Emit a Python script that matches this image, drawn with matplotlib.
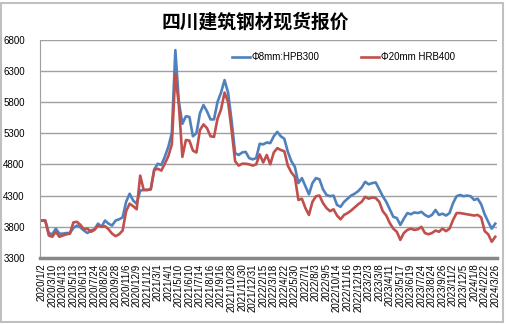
import numpy as np
import matplotlib
matplotlib.use("Agg")
import matplotlib.pyplot as plt
from matplotlib.patches import Rectangle

# %% data (one value per ~3.5 px of the plot)
hpb300 = [3900, 3900, 3700, 3680, 3770, 3690, 3690, 3700, 3700, 3780,
          3820, 3790, 3740, 3700, 3740, 3760, 3850, 3800, 3900, 3850,
          3820, 3900, 3920, 3950, 4200, 4330, 4220, 4170, 4380, 4390,
          4390, 4400, 4720, 4810, 4790, 4920, 5080, 5300, 6630, 5800,
          5450, 5570, 5560, 5250, 5300, 5620, 5750, 5650, 5520, 5520,
          5800, 5950, 6150, 5950, 5500, 4980, 4950, 4990, 5000, 4900,
          4880, 4900, 5130, 5120, 5150, 5140, 5250, 5320, 5250, 5210,
          5000, 4850, 4760, 4500, 4580, 4450, 4320, 4500, 4580, 4560,
          4400, 4310, 4290, 4300, 4150, 4120, 4200, 4250, 4300, 4330,
          4370, 4430, 4520, 4480, 4500, 4510, 4400, 4290, 4200, 4080,
          3960, 3940, 3830, 3930, 4020, 4000, 4030, 4020, 4040, 3990,
          3960, 3990, 4070, 3990, 4010, 3980, 4020, 4180, 4290, 4310,
          4290, 4300, 4290, 4230, 4250, 4160, 4000, 3880, 3770, 3850]

hrb400 = [3900, 3900, 3660, 3640, 3720, 3640, 3660, 3680, 3690, 3870,
          3880, 3830, 3760, 3770, 3720, 3750, 3820, 3800, 3810, 3760,
          3690, 3650, 3680, 3740, 4050, 4170, 4130, 4080, 4620, 4390,
          4390, 4400, 4710, 4730, 4700, 4810, 4930, 5120, 6250, 5750,
          4920, 5190, 5180, 5020, 4990, 5350, 5440, 5380, 5250, 5240,
          5530, 5680, 5950, 5800, 5350, 4850, 4780, 4810, 4810, 4800,
          4780, 4800, 4960, 4830, 4950, 4800, 4990, 5060, 5030, 5010,
          4780, 4670, 4600, 4230, 4250, 4100, 3990, 4200, 4290, 4300,
          4180, 4100, 4050, 4080, 3980, 3920, 3990, 4020, 4060, 4110,
          4160, 4200, 4280, 4250, 4270, 4260, 4200, 4050, 3980, 3860,
          3770, 3720, 3590, 3700, 3750, 3770, 3750, 3760, 3800, 3700,
          3680, 3700, 3740, 3720, 3770, 3730, 3770, 3910, 4020, 4020,
          4010, 4000, 3990, 3980, 3990, 3950, 3730, 3680, 3560, 3640]

date_labels = ["2020/1/2", "2020/3/10", "2020/4/13", "2020/5/13", "2020/6/13",
               "2020/7/24", "2020/8/26", "2020/9/28", "2020/11/6", "2020/12/9",
               "2021/1/12", "2021/3/1", "2021/4/1", "2021/5/10", "2021/6/10",
               "2021/7/14", "2021/8/16", "2021/9/16", "2021/10/28", "2021/11/30",
               "2021/12/31", "2022/2/15", "2022/3/18", "2022/4/22", "2022/5/30",
               "2022/7/1", "2022/8/3", "2022/9/5", "2022/10/14", "2022/11/16",
               "2022/12/19", "2023/2/3", "2023/3/8", "2023/4/11", "2023/5/17",
               "2023/6/19", "2023/7/24", "2023/8/24", "2023/9/26", "2023/11/2",
               "2023/12/5", "2024/1/8", "2024/2/22", "2024/3/26"]

# %% plot
plt.rcParams['font.family'] = ['Liberation Sans', 'DejaVu Sans']

x = np.arange(len(hpb300))

fig = plt.figure(figsize=(5.1, 3.24), dpi=100)
ax = fig.add_axes([40/510, 1-258/324, 457/510, 218.5/324])

ax.plot(x, hpb300, color="#4F81BD", lw=1.9, label="Φ8mm:HPB300")
ax.plot(x, hrb400, color="#C0504D", lw=1.9, label="Φ20mm HRB400")

ax.set_xlim(-0.5, len(x) - 0.5)
ax.set_ylim(3300, 6800)
ax.set_yticks(np.arange(3300, 6801, 500))
ax.set_xticks(x[::3][:len(date_labels)])
ax.set_xticklabels(date_labels, rotation=90, fontsize=7)
ax.tick_params(axis="y", labelsize=7, length=0, pad=11)
ax.tick_params(axis="x", length=0, pad=4)
ax.yaxis.grid(True, color="#a0a0a0", lw=1)
ax.set_axisbelow(True)

for s in ["top", "right"]:
    ax.spines[s].set_visible(False)
ax.spines["left"].set_color("#a0a0a0")
ax.spines["bottom"].set_color("#888888")
ax.spines["bottom"].set_linewidth(2.5)

ax.legend(loc="center left", bbox_to_anchor=(0.42, 0.92), ncol=2, frameon=False,
          fontsize=7, handlelength=1.85, handletextpad=0.2, columnspacing=4.2,
          borderpad=0, borderaxespad=0)

fig.text(0.5, 1-21.7/324, "四川建筑钢材现货报价", ha="center", va="center",
         fontsize=13.5, fontweight="bold", family=["Noto Sans CJK SC", "DejaVu Sans"])

fig.add_artist(Rectangle((1/510, 2/324), 502/510, 319/324, transform=fig.transFigure,
                         fill=False, edgecolor="#c0c0c0", lw=1.5))

fig.savefig("out.png", dpi=100)
